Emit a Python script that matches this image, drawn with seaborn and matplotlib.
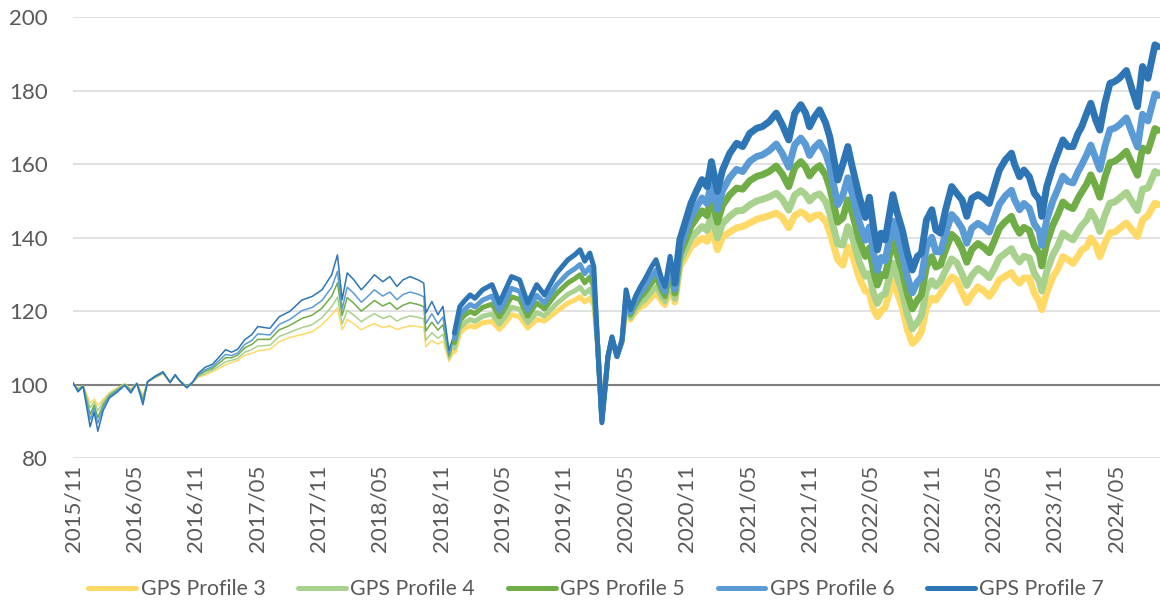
import pandas as pd
import seaborn as sns
import matplotlib.pyplot as plt
from matplotlib.lines import Line2D

# Values (index, 2015/11 = 100)
dates = [
    '2015-11-30', '2015-12-15', '2015-12-30', '2016-01-20', '2016-02-01', '2016-02-12', '2016-02-28', '2016-03-18', '2016-04-08', '2016-05-02',
    '2016-05-20', '2016-06-07', '2016-06-25', '2016-07-09', '2016-07-30', '2016-08-24', '2016-09-14', '2016-09-29', '2016-10-14', '2016-11-03',
    '2016-11-21', '2016-12-06', '2016-12-27', '2017-01-18', '2017-02-05', '2017-02-26', '2017-03-16', '2017-04-03', '2017-04-24', '2017-05-15',
    '2017-06-02', '2017-07-08', '2017-08-05', '2017-09-05', '2017-09-26', '2017-10-11', '2017-11-11', '2017-12-10', '2018-01-08', '2018-01-25',
    '2018-02-08', '2018-02-23', '2018-03-15', '2018-04-06', '2018-04-24', '2018-05-15', '2018-06-09', '2018-06-30', '2018-07-21', '2018-08-08',
    '2018-08-29', '2018-09-22', '2018-10-09', '2018-10-15', '2018-11-02', '2018-11-20', '2018-12-05', '2018-12-23', '2019-01-08', '2019-01-24',
    '2019-02-09', '2019-02-24', '2019-03-10', '2019-04-02', '2019-04-30', '2019-05-22', '2019-06-09', '2019-06-27', '2019-07-21', '2019-08-14',
    '2019-09-10', '2019-10-03', '2019-11-08', '2019-12-12', '2020-01-01', '2020-01-17', '2020-01-31', '2020-02-15', '2020-02-27', '2020-03-10',
    '2020-03-22', '2020-04-01', '2020-04-09', '2020-04-21', '2020-05-06', '2020-05-21', '2020-06-02', '2020-06-15', '2020-06-30', '2020-07-15',
    '2020-07-27', '2020-08-17', '2020-08-30', '2020-09-17', '2020-09-26', '2020-10-11', '2020-10-25', '2020-11-09', '2020-11-27', '2020-12-12',
    '2020-12-30', '2021-01-14', '2021-01-29', '2021-02-11', '2021-03-01', '2021-03-16', '2021-04-06', '2021-04-27', '2021-05-15', '2021-06-05',
    '2021-06-26', '2021-07-12', '2021-08-02', '2021-08-23', '2021-09-10', '2021-09-29', '2021-10-17', '2021-11-04', '2021-11-18', '2021-11-30',
    '2021-12-15', '2021-12-30', '2022-01-17', '2022-01-29', '2022-02-22', '2022-03-09', '2022-03-24', '2022-04-06', '2022-04-27', '2022-05-15',
    '2022-05-27', '2022-06-08', '2022-06-20', '2022-07-01', '2022-07-13', '2022-08-05', '2022-08-18', '2022-09-02', '2022-09-17', '2022-10-02',
    '2022-10-17', '2022-10-29', '2022-11-13', '2022-11-29', '2022-12-11', '2022-12-25', '2023-01-09', '2023-01-27', '2023-02-11', '2023-02-27',
    '2023-03-13', '2023-03-28', '2023-04-15', '2023-05-03', '2023-05-19', '2023-06-03', '2023-06-18', '2023-07-06', '2023-07-24', '2023-08-02',
    '2023-08-17', '2023-08-30', '2023-09-15', '2023-09-30', '2023-10-15', '2023-10-22', '2023-11-06', '2023-11-24', '2023-12-09', '2023-12-24',
    '2024-01-08', '2024-01-23', '2024-02-07', '2024-02-18', '2024-03-04', '2024-03-16', '2024-03-31', '2024-04-12', '2024-04-27', '2024-05-12',
    '2024-05-26', '2024-06-09', '2024-06-30', '2024-07-18', '2024-08-02', '2024-08-17', '2024-09-02', '2024-09-23', '2024-10-02',
]

profile_3 = [
    100.3, 99.0, 99.7, 95.0, 96.0, 94.3, 96.0, 97.8, 99.0, 100.2,
    98.8, 100.3, 97.0, 100.7, 101.8, 103.0, 100.8, 102.3, 101.0, 99.5,
    100.6, 102.0, 102.6, 103.5, 104.3, 105.4, 106.0, 106.5, 108.0, 108.5,
    109.2, 109.6, 111.7, 112.8, 113.3, 113.6, 114.4, 116.3, 119.0, 120.9,
    114.9, 117.7, 116.5, 114.9, 115.8, 116.6, 115.5, 116.0, 115.0, 115.5,
    116.0, 115.8, 115.5, 110.3, 112.0, 111.0, 111.8, 106.3, 109.0, 114.0,
    115.4, 116.0, 115.6, 116.8, 117.2, 115.0, 116.8, 119.0, 118.5, 115.4,
    117.7, 117.3, 119.9, 122.2, 123.0, 123.9, 122.5, 123.5, 121.5, 110.0,
    91.2, 100.0, 107.5, 112.0, 107.8, 111.5, 121.0, 117.5, 119.5, 121.0,
    121.5, 123.5, 124.9, 122.2, 121.5, 124.9, 122.5, 132.0, 135.0, 137.6,
    138.8, 139.8, 139.0, 143.0, 136.7, 140.2, 141.5, 142.7, 143.0, 144.0,
    145.0, 145.4, 146.0, 146.7, 145.5, 142.7, 146.0, 147.0, 146.3, 145.0,
    146.0, 146.2, 144.5, 141.5, 134.0, 132.5, 137.5, 135.5, 129.0, 125.5,
    125.0, 120.5, 118.5, 120.0, 121.0, 128.5, 125.0, 121.0, 115.0, 111.2,
    112.5, 114.5, 121.0, 123.5, 123.0, 124.9, 127.0, 129.3, 128.5, 125.0,
    122.3, 124.5, 126.6, 125.5, 124.0, 126.0, 128.5, 129.5, 130.5, 129.0,
    127.6, 129.0, 129.0, 124.9, 122.5, 120.4, 125.0, 129.3, 131.5, 134.8,
    134.0, 133.0, 135.0, 136.6, 137.5, 139.9, 138.0, 134.8, 138.5, 141.3,
    141.5, 142.5, 144.0, 142.0, 140.3, 144.8, 146.0, 149.4, 149.0,
]

profile_4 = [
    100.3, 98.8, 99.7, 93.7, 95.3, 92.9, 95.4, 97.5, 98.8, 100.1,
    98.6, 100.3, 96.5, 100.7, 101.9, 103.1, 100.7, 102.4, 101.0, 99.4,
    100.6, 102.2, 103.0, 103.9, 104.9, 106.2, 106.6, 107.1, 108.8, 109.5,
    110.5, 110.7, 113.1, 114.2, 115.0, 115.5, 116.3, 118.2, 121.2, 123.8,
    116.5, 120.2, 118.9, 117.1, 118.2, 119.3, 118.0, 118.7, 117.3, 118.1,
    118.7, 118.3, 117.9, 112.1, 114.1, 112.6, 113.7, 106.9, 110.0, 115.4,
    116.9, 117.7, 117.2, 118.6, 119.2, 116.4, 118.6, 121.1, 120.5, 116.8,
    119.6, 118.7, 122.0, 124.6, 125.5, 126.5, 124.7, 126.0, 123.6, 109.9,
    90.9, 99.9, 107.5, 112.2, 107.8, 111.6, 122.0, 118.1, 120.4, 122.1,
    122.9, 125.2, 126.7, 123.5, 122.5, 126.9, 123.5, 133.5, 137.0, 139.9,
    141.6, 143.0, 142.0, 146.5, 139.9, 143.8, 145.8, 147.3, 147.4, 148.9,
    150.0, 150.4, 151.1, 152.1, 150.5, 147.5, 151.6, 152.8, 151.8, 150.0,
    151.4, 151.9, 149.8, 146.7, 138.3, 138.0, 143.0, 140.3, 133.4, 129.5,
    130.2, 125.0, 122.1, 124.2, 124.7, 133.1, 129.3, 125.2, 119.2, 115.2,
    117.0, 118.8, 125.8, 128.3, 126.8, 128.2, 131.1, 134.2, 133.2, 130.1,
    127.0, 129.7, 131.6, 130.5, 129.1, 131.6, 134.5, 135.8, 137.0, 135.2,
    133.4, 134.9, 134.5, 130.3, 128.1, 125.5, 130.8, 135.3, 137.8, 141.2,
    140.2, 139.4, 141.7, 143.3, 144.8, 147.2, 144.8, 141.7, 146.1, 149.4,
    149.7, 150.7, 152.3, 149.6, 147.4, 153.2, 153.5, 158.0, 157.6,
]

profile_5 = [
    100.4, 98.5, 99.6, 91.9, 94.4, 91.0, 94.6, 97.1, 98.4, 100.0,
    98.3, 100.3, 95.8, 100.7, 102.0, 103.2, 100.7, 102.5, 100.9, 99.3,
    100.7, 102.5, 103.6, 104.4, 105.7, 107.3, 107.3, 108.0, 110.0, 110.9,
    112.3, 112.3, 114.9, 116.1, 117.2, 118.0, 118.9, 120.8, 124.1, 127.7,
    118.8, 123.7, 122.1, 120.0, 121.3, 122.9, 121.4, 122.3, 120.5, 121.6,
    122.3, 121.8, 121.2, 114.6, 117.0, 114.8, 116.3, 107.7, 111.4, 117.4,
    119.0, 119.9, 119.3, 121.0, 121.9, 118.4, 121.0, 123.9, 123.2, 118.6,
    122.2, 120.6, 124.8, 127.7, 128.8, 129.9, 127.7, 129.3, 126.5, 109.8,
    90.5, 99.8, 107.6, 112.5, 107.7, 111.8, 123.3, 118.9, 121.6, 123.7,
    124.8, 127.5, 129.2, 125.2, 123.9, 129.6, 124.9, 135.5, 139.6, 143.1,
    145.5, 147.3, 146.0, 151.3, 144.2, 148.8, 151.6, 153.5, 153.2, 155.5,
    156.7, 157.1, 158.0, 159.5, 157.3, 153.9, 159.1, 160.7, 159.3, 156.8,
    158.6, 159.6, 157.0, 153.7, 144.2, 145.4, 150.3, 146.7, 139.4, 134.9,
    137.2, 131.1, 127.1, 130.0, 129.6, 139.4, 135.2, 130.9, 124.8, 120.6,
    123.0, 124.5, 132.2, 134.8, 132.0, 132.6, 136.7, 140.9, 139.6, 136.9,
    133.3, 136.8, 138.4, 137.3, 135.9, 139.1, 142.6, 144.4, 145.8, 143.6,
    141.2, 142.8, 142.0, 137.7, 135.6, 132.3, 138.6, 143.4, 146.3, 149.7,
    148.5, 147.9, 150.7, 152.4, 154.6, 157.1, 154.0, 151.0, 156.4, 160.4,
    160.8, 161.7, 163.5, 159.9, 157.0, 164.4, 163.6, 169.7, 169.2,
]

profile_6 = [
    100.4, 98.3, 99.6, 90.5, 93.6, 89.5, 93.9, 96.8, 98.2, 99.9,
    98.0, 100.3, 95.3, 100.8, 102.1, 103.3, 100.6, 102.6, 100.9, 99.2,
    100.7, 102.7, 104.0, 104.9, 106.4, 108.2, 107.9, 108.6, 110.9, 112.0,
    113.8, 113.5, 116.4, 117.7, 119.1, 120.1, 121.0, 122.9, 126.5, 130.8,
    120.6, 126.5, 124.8, 122.4, 123.9, 125.8, 124.1, 125.2, 123.1, 124.5,
    125.2, 124.6, 123.9, 116.6, 119.3, 116.5, 118.4, 108.4, 112.5, 119.0,
    120.6, 121.8, 121.1, 123.0, 124.1, 120.0, 123.0, 126.2, 125.4, 120.1,
    124.3, 122.2, 127.1, 130.3, 131.5, 132.7, 130.2, 132.0, 128.8, 109.7,
    90.1, 99.7, 107.6, 112.7, 107.7, 112.0, 124.3, 119.5, 122.6, 124.9,
    126.3, 129.4, 131.2, 126.5, 125.1, 131.8, 126.0, 137.1, 141.8, 145.7,
    148.6, 150.8, 149.3, 155.2, 147.7, 152.8, 156.3, 158.6, 158.0, 160.8,
    162.1, 162.5, 163.7, 165.5, 162.9, 159.2, 165.3, 167.1, 165.4, 162.4,
    164.6, 165.9, 162.9, 159.4, 149.0, 151.5, 156.3, 151.9, 144.3, 139.3,
    142.9, 136.0, 131.1, 134.6, 133.7, 144.5, 140.0, 135.6, 129.4, 125.0,
    128.0, 129.2, 137.4, 140.1, 136.2, 136.1, 141.2, 146.3, 144.8, 142.5,
    138.5, 142.6, 143.9, 142.9, 141.5, 145.3, 149.1, 151.4, 152.9, 150.4,
    147.6, 149.3, 148.0, 143.7, 141.7, 137.9, 144.9, 150.0, 153.2, 156.7,
    155.3, 154.9, 158.0, 159.8, 162.6, 165.2, 161.5, 158.6, 164.8, 169.4,
    169.8, 170.7, 172.6, 168.2, 164.7, 173.6, 171.8, 179.1, 178.7,
]

profile_7 = [
    100.5, 98.0, 99.5, 88.5, 92.5, 87.3, 93.0, 96.4, 97.8, 99.8,
    97.7, 100.3, 94.5, 100.8, 102.2, 103.5, 100.5, 102.7, 100.8, 99.1,
    100.8, 103.0, 104.7, 105.5, 107.3, 109.5, 108.8, 109.6, 112.2, 113.6,
    115.8, 115.3, 118.5, 119.9, 121.7, 123.0, 124.0, 125.8, 129.9, 135.3,
    123.1, 130.4, 128.5, 125.8, 127.6, 129.9, 128.0, 129.4, 126.7, 128.5,
    129.4, 128.5, 127.6, 119.5, 122.6, 119.0, 121.3, 109.3, 114.0, 121.2,
    123.0, 124.4, 123.5, 125.8, 127.2, 122.2, 125.8, 129.4, 128.5, 122.2,
    127.2, 124.4, 130.3, 134.0, 135.3, 136.7, 133.6, 135.8, 132.1, 109.5,
    89.6, 99.5, 107.6, 113.0, 107.6, 112.2, 125.8, 120.4, 124.0, 126.7,
    128.5, 132.1, 134.0, 128.5, 126.7, 134.9, 127.6, 139.4, 144.8, 149.3,
    153.0, 155.8, 153.9, 160.7, 152.6, 158.4, 162.9, 165.7, 164.8, 168.4,
    169.8, 170.2, 171.6, 173.9, 170.7, 166.6, 173.9, 176.2, 174.0, 170.2,
    172.9, 174.8, 171.2, 167.5, 155.7, 160.0, 164.8, 159.3, 151.2, 145.5,
    151.0, 143.0, 136.7, 141.2, 139.4, 151.7, 146.7, 142.1, 135.8, 131.2,
    134.9, 135.8, 144.8, 147.6, 142.1, 141.2, 147.6, 153.9, 152.1, 150.3,
    145.8, 150.7, 151.7, 150.7, 149.3, 153.9, 158.4, 161.2, 163.0, 160.0,
    156.6, 158.4, 156.6, 152.1, 150.3, 145.8, 153.9, 159.3, 163.0, 166.6,
    164.8, 164.8, 168.4, 170.2, 173.9, 176.6, 172.0, 169.3, 176.6, 182.0,
    182.5, 183.4, 185.5, 180.0, 175.7, 186.6, 183.4, 192.5, 192.0,
]

series_names = ['GPS Profile 3', 'GPS Profile 4', 'GPS Profile 5', 'GPS Profile 6', 'GPS Profile 7']
series_colors = ['#FFD966', '#A9D18E', '#70AD47', '#5B9BD5', '#2E75B6']

tick_dates = ['2015-11-30', '2016-05-31', '2016-11-30', '2017-05-31', '2017-11-30', '2018-05-31',
              '2018-11-30', '2019-05-31', '2019-11-30', '2020-05-31', '2020-11-30', '2021-05-31',
              '2021-11-30', '2022-05-31', '2022-11-30', '2023-05-31', '2023-11-30', '2024-05-31']
tick_labels = ['2015/11', '2016/05', '2016/11', '2017/05', '2017/11', '2018/05',
               '2018/11', '2019/05', '2019/11', '2020/05', '2020/11', '2021/05',
               '2021/11', '2022/05', '2022/11', '2023/05', '2023/11', '2024/05']
y_ticks = [80, 100, 120, 140, 160, 180, 200]

# the reference draws the lines thicker in later periods
segment_breaks = ['2019-01-08', '2020-10-25']
segment_widths = [1.1, 3.6, 5.0]

TEXT = '#595959'

df = pd.DataFrame({'date': pd.to_datetime(dates)})
for name, values in zip(series_names, [profile_3, profile_4, profile_5, profile_6, profile_7]):
    df[name] = values
long_df = df.melt(id_vars='date', var_name='series', value_name='value')

sns.set_theme(style='white')
plt.rcParams['font.family'] = ['Lato', 'DejaVu Sans']

fig = plt.figure(figsize=(11.6, 6.02), dpi=100)
ax = fig.add_axes([73 / 1160, 144 / 602, 1087 / 1160, 440.7 / 602])

bounds = [None] + [pd.Timestamp(b) for b in segment_breaks] + [None]
for i, lw in enumerate(segment_widths):
    lo, hi = bounds[i], bounds[i + 1]
    mask = pd.Series(True, index=long_df.index)
    if lo is not None:
        mask &= long_df['date'] >= lo
    if hi is not None:
        mask &= long_df['date'] <= hi
    sns.lineplot(data=long_df[mask], x='date', y='value', hue='series',
                 hue_order=series_names, palette=series_colors, linewidth=lw,
                 estimator=None, legend=False, ax=ax,
                 solid_capstyle='round', solid_joinstyle='round')

ax.axhline(100, color='#7F7F7F', lw=1.5, zorder=1.5)

ax.set_ylim(80, 200)
ax.set_yticks(y_ticks)
ax.set_xlim(pd.Timestamp('2015-11-30'), pd.Timestamp('2024-10-08'))
ax.set_xticks(pd.to_datetime(tick_dates))
ax.set_xticklabels(tick_labels, rotation=90)
ax.set_xlabel('')
ax.set_ylabel('')
ax.yaxis.grid(True, color='#D9D9D9', lw=1.1, zorder=0)
ax.xaxis.grid(False)
ax.set_axisbelow(True)
for s in ax.spines.values():
    s.set_visible(False)
ax.tick_params(axis='both', length=0, labelsize=16, colors=TEXT)
ax.tick_params(axis='y', pad=18)
ax.tick_params(axis='x', pad=5)

handles = [Line2D([0], [0], color=c, lw=3.6, solid_capstyle='round') for c in series_colors]
fig.legend(handles, series_names, loc='center', bbox_to_anchor=(0.514, 0.021), ncol=5,
           frameon=False, fontsize=15.3, handlelength=2.25, handletextpad=0.2,
           columnspacing=1.55, labelcolor=TEXT)

fig.savefig('out.png', dpi=100)
